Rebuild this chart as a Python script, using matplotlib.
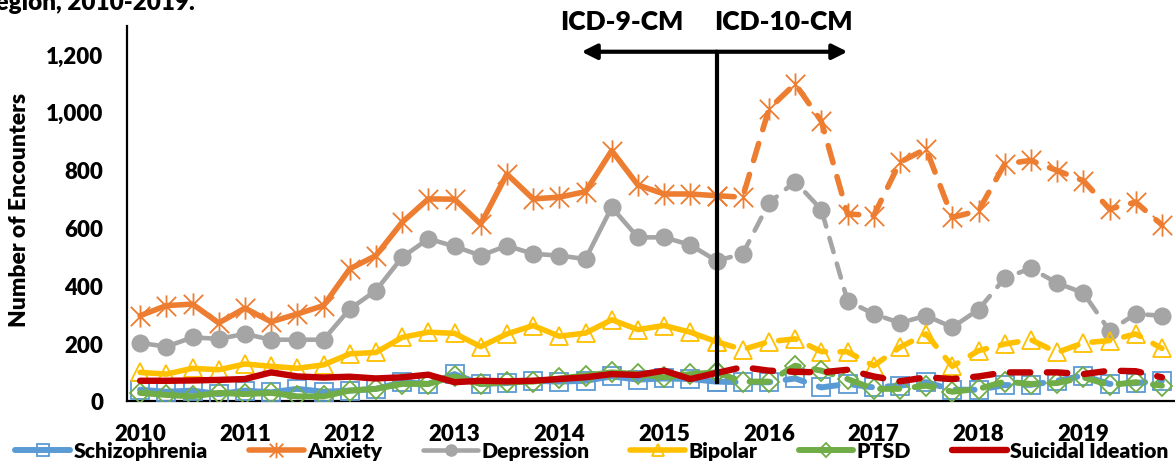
import matplotlib
matplotlib.use("Agg")
import matplotlib.pyplot as plt
from matplotlib.path import Path
from matplotlib.lines import Line2D
from matplotlib.ticker import FuncFormatter

plt.rcParams['font.family'] = ['Lato', 'DejaVu Sans']
WEIGHT = 'heavy'
plt.rcParams['font.weight'] = WEIGHT

# ---------------- data (quarterly, 2010 Q1 .. 2019 Q4) ----------------
year_labels = ['2010', '2011', '2012', '2013', '2014',
               '2015', '2016', '2017', '2018', '2019']
quarters_per_year = 4

schizophrenia = [39, 32, 36, 24, 36, 30, 42, 32, 36, 42,
                 65, 59, 93, 59, 62, 70, 67, 70, 85, 74,
                 78, 76, 67, 65, 65, 78, 47, 59, 47, 53,
                 65, 39, 39, 55, 56, 70, 88, 59, 62, 70]
anxiety = [295, 330, 335, 270, 321, 274, 301, 330, 457, 503,
           618, 699, 698, 612, 785, 699, 705, 724, 866, 747,
           716, 716, 710, 705, 1010, 1097, 968, 647, 641, 826,
           872, 635, 658, 820, 832, 797, 762, 664, 688, 609]
depression = [201, 188, 220, 215, 232, 212, 212, 212, 318, 382,
              497, 561, 535, 503, 537, 509, 503, 491, 670, 566,
              566, 540, 485, 509, 685, 759, 662, 347, 301, 270,
              295, 255, 316, 425, 459, 408, 374, 243, 301, 295]
bipolar = [99, 93, 113, 108, 128, 120, 113, 125, 163, 168,
           220, 238, 234, 188, 232, 261, 224, 235, 281, 247,
           261, 238, 205, 178, 205, 215, 171, 170, 122, 186,
           232, 120, 174, 197, 212, 168, 201, 209, 232, 182]
ptsd = [28, 21, 16, 28, 24, 28, 16, 16, 36, 42,
        59, 59, 85, 59, 65, 67, 78, 88, 99, 93,
        82, 93, 99, 67, 67, 122, 105, 76, 42, 42,
        53, 32, 42, 67, 59, 62, 82, 55, 65, 53]
suicidal = [70, 70, 71, 73, 76, 99, 85, 81, 84, 78,
            82, 91, 65, 70, 68, 70, 76, 82, 93, 90,
            105, 76, 97, 117, 105, 101, 99, 108, 85, 68,
            82, 76, 85, 99, 99, 99, 93, 105, 103, 82]

series_names = ['Schizophrenia', 'Anxiety', 'Depression', 'Bipolar', 'PTSD',
                'Suicidal Ideation']
icd_switch = 22          # index of the quarter where ICD-10-CM coding begins
y_ticks = [0, 200, 400, 600, 800, 1000, 1200]

# ---------------- styling ----------------
star = Path([(-1, -1), (1, 1), (-1, 1), (1, -1), (0, -1.15), (0, 1.15)],
            [Path.MOVETO, Path.LINETO, Path.MOVETO, Path.LINETO,
             Path.MOVETO, Path.LINETO])

styles = {
    'Schizophrenia': dict(color='#5B9BD5', lw=4.3, marker='s', ms=12.5,
                          mfc='none', mew=1.3),
    'Anxiety': dict(color='#ED7D31', lw=4.0, marker=star, ms=16,
                    mfc='none', mew=1.3),
    'Depression': dict(color='#A5A5A5', lw=3.3, marker='o', ms=13,
                       mfc='#A5A5A5', mew=0),
    'Bipolar': dict(color='#FFC000', lw=4.0, marker='^', ms=13,
                    mfc='none', mew=1.3),
    'PTSD': dict(color='#70AD47', lw=4.3, marker='D', ms=10.5,
                 mfc='none', mew=1.3),
    'Suicidal Ideation': dict(color='#C00000', lw=4.6, marker=None, ms=0,
                              mfc='none', mew=0),
}
values = {
    'Schizophrenia': schizophrenia, 'Anxiety': anxiety,
    'Depression': depression, 'Bipolar': bipolar, 'PTSD': ptsd,
    'Suicidal Ideation': suicidal,
}

W, H = 1175, 464
fig = plt.figure(figsize=(W / 100, H / 100), dpi=100)
ax = fig.add_axes([127 / W, 62 / H, 1 - 127 / W, (402 - 27) / H])

x = list(range(len(anxiety)))
handles = []
for z, name in enumerate(series_names):
    st = styles[name]
    v = values[name]
    kw = dict(color=st['color'], lw=st['lw'], marker=st['marker'],
              ms=st['ms'], mfc=st['mfc'], mec=st['color'], mew=st['mew'],
              solid_capstyle='round', solid_joinstyle='round',
              dash_capstyle='round', dash_joinstyle='round', zorder=3 + z)
    ax.plot(x[:icd_switch + 1], v[:icd_switch + 1], **kw)
    ln, = ax.plot(x[icd_switch:], v[icd_switch:], **kw)
    ln.set_dashes([3.2, 2.6])
    handles.append(Line2D([], [], color=st['color'], lw=st['lw'],
                          marker=st['marker'], ms=st['ms'] * 0.7,
                          mfc=st['mfc'], mec=st['color'], mew=st['mew'],
                          solid_capstyle='round', label=name))

ax.set_xlim(-0.5, len(anxiety) - 0.5)
ax.set_ylim(0, 1297)
ax.set_xticks(range(0, len(anxiety), quarters_per_year))
ax.set_xticklabels(year_labels)
ax.set_yticks(y_ticks)
ax.yaxis.set_major_formatter(FuncFormatter(lambda v, p: f'{int(v):,}'))
ax.tick_params(axis='both', length=0, labelsize=16)
ax.tick_params(axis='y', pad=17)
ax.tick_params(axis='x', pad=16)
for lab in ax.get_xticklabels() + ax.get_yticklabels():
    lab.set_fontweight(WEIGHT)
for s in ['top', 'right']:
    ax.spines[s].set_visible(False)
for s in ['left', 'bottom']:
    ax.spines[s].set_linewidth(1.6)
    ax.spines[s].set_color('black')

# ICD coding change marker
ax.plot([icd_switch, icd_switch], [59, 1208], color='black', lw=3,
        solid_capstyle='butt', zorder=20, clip_on=False)
for end in (16.85, 27.0):
    ax.annotate('', xy=(end, 1208), xytext=(icd_switch, 1208),
                arrowprops=dict(arrowstyle='-|>,head_length=0.9,head_width=0.45',
                                color='black', lw=3, shrinkA=0, shrinkB=0),
                zorder=20, annotation_clip=False)
fig.text(622 / W, 1 - 22 / H, 'ICD-9-CM', ha='center', va='center',
         fontsize=19, fontweight=WEIGHT)
fig.text(783 / W, 1 - 22 / H, 'ICD-10-CM', ha='center', va='center',
         fontsize=19, fontweight=WEIGHT)

# cropped title remnant
fig.text(195 / W, 1 - 10 / H, 'by Region, 2010-2019.', ha='right',
         va='baseline', fontsize=17.5, fontweight=WEIGHT)

fig.text(20 / W, 1 - 210 / H, 'Number of Encounters', rotation=90,
         ha='center', va='center', fontsize=16.5, fontweight=WEIGHT)

fig.legend(handles=handles, loc='center', bbox_to_anchor=(592 / W, 1 - 452 / H),
           ncol=6, frameon=False, handlelength=2.6,
           handletextpad=0.15, columnspacing=1.95, borderpad=0,
           prop=dict(weight=WEIGHT, size=15.2))

fig.savefig('out.png', dpi=100)
